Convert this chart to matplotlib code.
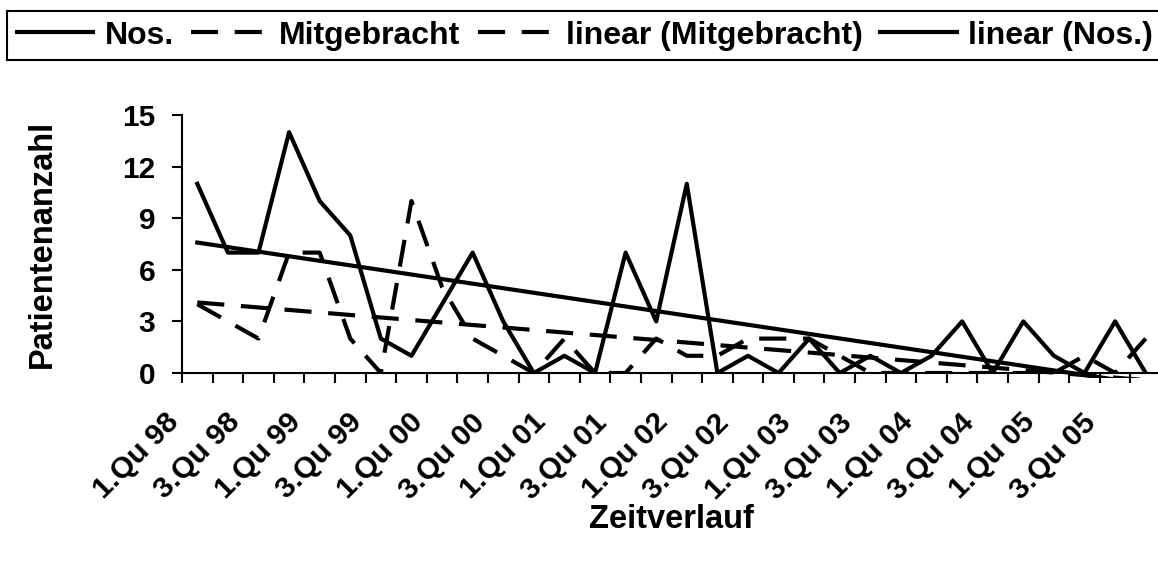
import numpy as np
import matplotlib.pyplot as plt
from matplotlib.transforms import ScaledTranslation, Bbox, TransformedBbox

plt.rcParams['font.family'] = ['Liberation Sans', 'DejaVu Sans']
plt.rcParams['font.weight'] = 'bold'

# Quarters from 1.Qu 98 to 4.Qu 05
quarters = [
    "1.Qu 98", "2.Qu 98", "3.Qu 98", "4.Qu 98",
    "1.Qu 99", "2.Qu 99", "3.Qu 99", "4.Qu 99",
    "1.Qu 00", "2.Qu 00", "3.Qu 00", "4.Qu 00",
    "1.Qu 01", "2.Qu 01", "3.Qu 01", "4.Qu 01",
    "1.Qu 02", "2.Qu 02", "3.Qu 02", "4.Qu 02",
    "1.Qu 03", "2.Qu 03", "3.Qu 03", "4.Qu 03",
    "1.Qu 04", "2.Qu 04", "3.Qu 04", "4.Qu 04",
    "1.Qu 05", "2.Qu 05", "3.Qu 05", "4.Qu 05",
]

# Patient counts per quarter
nos = [11, 7, 7, 14, 10, 8, 2, 1, 4, 7, 3, 0, 1, 0, 7, 3,
       11, 0, 1, 0, 2, 0, 1, 0, 1, 3, 0, 3, 1, 0, 3, 0]
mitgebracht = [4, 3, 2, 7, 7, 2, 0, 10, 5, 2, 1, 0, 2, 0, 0, 2,
               1, 1, 2, 2, 2, 1, 0, 0, 0, 0, 0, 0, 0, 1, 0, 2]

x = np.arange(len(quarters))

# Linear trend lines (like Excel's "linear" trendline)
nos_fit = np.polyval(np.polyfit(x, nos, 1), x)
mit_fit = np.polyval(np.polyfit(x, mitgebracht, 1), x)

fig = plt.figure(figsize=(11.58, 5.62), dpi=100)
ax = fig.add_axes([182 / 1158, 1 - 373 / 562, 979 / 1158, 258 / 562])

lw = 3.0
dash = (6.5, 4)
l1, = ax.plot(x, nos, color='black', lw=lw, label='Nos.')
l2, = ax.plot(x, mitgebracht, color='black', lw=lw, dashes=dash, label='Mitgebracht')
l3, = ax.plot(x, mit_fit, color='black', lw=lw, dashes=dash, label='linear (Mitgebracht)')
l4, = ax.plot(x, nos_fit, color='black', lw=lw, label='linear (Nos.)')
for ln in (l1, l2, l3, l4):
    ln.set_dash_capstyle('butt')

# trend lines may run a few pixels below the x axis, like in Excel
clip = TransformedBbox(Bbox([[0, -5 / 258], [1.01, 1]]), ax.transAxes)
for ln in (l3, l4):
    ln.set_clip_box(clip)

ax.set_xlim(-0.5, len(quarters) - 0.5)
ax.set_ylim(0, 15)

# y axis
ax.set_yticks(range(0, 16, 3))
ax.tick_params(axis='y', labelsize=21.5, length=7.2, width=1.5, pad=12)

# x axis: tick marks between categories, labels on every second quarter
ax.set_xticks(np.arange(-0.5, len(quarters), 1))
ax.set_xticklabels([])
ax.tick_params(axis='x', which='major', length=7.2, width=1.5)
ax.set_xticks(x[::2], minor=True)
ax.set_xticklabels(quarters[::2], minor=True, rotation=45, ha='right', va='center',
                   rotation_mode='anchor', fontsize=21.5)
ax.tick_params(axis='x', which='minor', length=0, pad=32.5)
shift = ScaledTranslation(-23 / 100, 0, fig.dpi_scale_trans)
for lab in ax.get_xticklabels(minor=True):
    lab.set_transform(lab.get_transform() + shift)

for side in ['top', 'right']:
    ax.spines[side].set_visible(False)
for side in ['left', 'bottom']:
    ax.spines[side].set_linewidth(1.5)

fig.text(42 / 1158, 1 - 244 / 562, 'Patientenanzahl', rotation=90,
         ha='center', va='center', fontsize=23.5, fontweight='bold')
fig.text(671 / 1158, 1 - 519 / 562, 'Zeitverlauf',
         ha='center', va='center', fontsize=23.5, fontweight='bold')

leg = fig.legend(handles=[l1, l2, l3, l4], loc='upper left', ncol=4,
                 bbox_to_anchor=(7 / 1158, 1 - 11 / 562), bbox_transform=fig.transFigure,
                 borderaxespad=0, fontsize=23, fancybox=False, framealpha=1,
                 edgecolor='black', borderpad=0.3, handlelength=2.4,
                 handletextpad=0.35, columnspacing=0.55)
leg.get_frame().set_linewidth(1.5)

fig.savefig('out.png', dpi=100)
